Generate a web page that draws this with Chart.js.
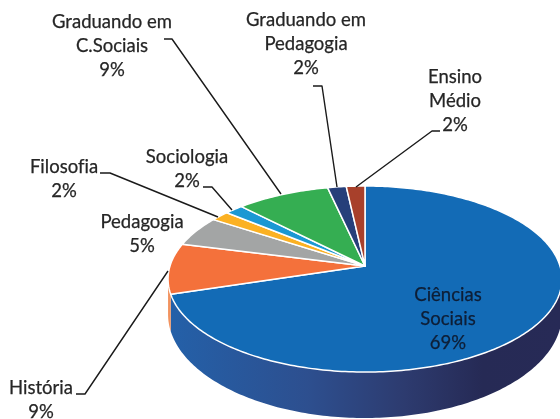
<!DOCTYPE html>
<html>
<head>
<meta charset="utf-8">
<script src="https://cdn.jsdelivr.net/npm/chart.js@4"></script>
<style>
  html, body { margin: 0; padding: 0; background: #fff; overflow: hidden; }
  canvas { display: block; }
</style>
</head>
<body>
<canvas id="grafico" width="560" height="419"></canvas>
<script>
const categorias = ["Ciências Sociais", "História", "Pedagogia", "Filosofia", "Sociologia", "Graduando em C.Sociais", "Graduando em Pedagogia", "Ensino Médio"];
const valores = [68.97, 8.62, 5.17, 1.72, 1.72, 8.62, 1.72, 1.72];
const cores = ["#136bb6", "#f4713b", "#a3a5a5", "#fbb123", "#1b98d3", "#35ae52", "#263f7a", "#a8402b"];

// texto de cada fatia: linhas, centro x, baseline da primeira linha
const rotulos = [
  { linhas: ["Ciências", "Sociais"], x: 448, y: 301, cor: "#0e1e36" },
  { linhas: ["História"], x: 41, y: 394 },
  { linhas: ["Pedagogia"], x: 142, y: 228 },
  { linhas: ["Filosofia"], x: 64, y: 173 },
  { linhas: ["Sociologia"], x: 187, y: 163 },
  { linhas: ["Graduando em", "C.Sociais"], x: 112, y: 28 },
  { linhas: ["Graduando em", "Pedagogia"], x: 306, y: 26 },
  { linhas: ["Ensino", "Médio"], x: 455, y: 83 }
];

// linhas de chamada
const chamadas = [
  [[76, 394], [85, 394], [168, 271]],
  [[100, 173], [110, 173], [218, 217]],
  [[203, 187], [212, 187], [232, 210]],
  [[164, 39], [172, 39], [281, 194]],
  [[313, 86], [322, 86], [337, 187]],
  [[440, 131], [432, 131], [356, 187]]
];

// perspectiva do disco
const CX = 365, CY = 266, RX = 195, RY = 91.2, K = -0.14, ALTURA = 34;

function projeta(a) {
  const w = 1 + K * Math.sin(a);
  return {
    x: CX + RX * Math.cos(a) / w,
    y: CY + RY * Math.sin(a) / w,
    d: ALTURA / (w * w)
  };
}

function faixa(inicio, fim) {
  const pts = [];
  const n = Math.max(2, Math.ceil((fim - inicio) * 60));
  for (let i = 0; i <= n; i++) pts.push(projeta(inicio + (fim - inicio) * i / n));
  return pts;
}

const pizza3d = {
  id: "pizza3d",
  beforeDatasetDraw(chart, args) {
    const ctx = chart.ctx;
    const arcos = args.meta.data;
    const visIni = Math.asin(-K), visFim = Math.PI - Math.asin(-K);

    // lateral
    arcos.forEach((arco, i) => {
      const ini = Math.max(arco.startAngle, visIni);
      const fim = Math.min(arco.endAngle, visFim);
      if (fim <= ini) return;
      const pts = faixa(ini, fim);
      ctx.beginPath();
      pts.forEach((p, j) => j ? ctx.lineTo(p.x, p.y) : ctx.moveTo(p.x, p.y));
      pts.slice().reverse().forEach(p => ctx.lineTo(p.x, p.y + p.d));
      ctx.closePath();
      if (i === 0) {
        const g = ctx.createLinearGradient(172, 0, 560, 0);
        g.addColorStop(0, "#2460a8");
        g.addColorStop(0.35, "#2d4f8f");
        g.addColorStop(0.6, "#2d3b6f");
        g.addColorStop(0.8, "#262a55");
        g.addColorStop(1, "#272a56");
        ctx.fillStyle = g;
      } else {
        ctx.fillStyle = "#f2935f";
      }
      ctx.fill();
    });

    // topo
    arcos.forEach((arco, i) => {
      ctx.beginPath();
      ctx.moveTo(CX, CY);
      faixa(arco.startAngle, arco.endAngle).forEach(p => ctx.lineTo(p.x, p.y));
      ctx.closePath();
      ctx.fillStyle = cores[i];
      ctx.fill();
      ctx.strokeStyle = "#fff";
      ctx.lineWidth = 1.5;
      ctx.lineJoin = "round";
      ctx.stroke();
    });
    return false;
  },
  afterDatasetsDraw(chart) {
    const ctx = chart.ctx;
    ctx.save();
    ctx.strokeStyle = "#1a1a1a";
    ctx.lineWidth = 1.4;
    chamadas.forEach(l => {
      ctx.beginPath();
      l.forEach((p, j) => j ? ctx.lineTo(p[0], p[1]) : ctx.moveTo(p[0], p[1]));
      ctx.stroke();
    });
    ctx.font = "18.5px Lato";
    ctx.letterSpacing = "0.01px"; // sem ligadura no "fi"
    ctx.textAlign = "center";
    ctx.textBaseline = "alphabetic";
    ctx.lineWidth = 0.25;
    rotulos.forEach((r, i) => {
      ctx.fillStyle = ctx.strokeStyle = r.cor || "#262626";
      r.linhas.concat(Math.round(valores[i]) + "%").forEach((t, j) => {
        ctx.fillText(t, r.x, r.y + j * 24);
        ctx.strokeText(t, r.x, r.y + j * 24);
      });
    });
    ctx.restore();
  }
};

new Chart(document.getElementById("grafico"), {
  type: "pie",
  data: {
    labels: categorias,
    datasets: [{ data: valores, backgroundColor: cores }]
  },
  options: {
    responsive: false,
    animation: false,
    plugins: {
      legend: { display: false },
      tooltip: { enabled: false }
    }
  },
  plugins: [pizza3d]
});
</script>
</body>
</html>
